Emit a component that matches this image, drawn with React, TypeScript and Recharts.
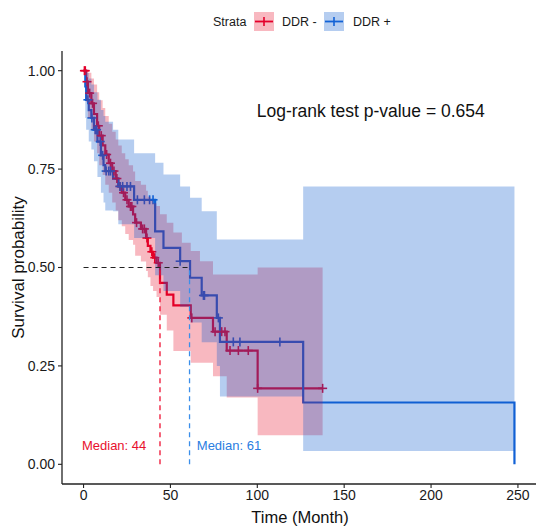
import React from 'react';
import { ComposedChart, Line, Area, Scatter, XAxis, YAxis, ReferenceDot, Label } from 'recharts';

const FONT = '"Liberation Sans", Arial, Helvetica, sans-serif';
const RED = '#E4002B';
const BLUE = '#1262D6';
const RED_FILL = '#E7001B';
const BLUE_FILL = '#0A58CD';

// DDR - (red) Kaplan-Meier estimate and confidence band
const RED_TIME = [0, 1.5, 2.5, 4.5, 6, 7.8, 9, 11, 12.5, 14.5, 16.5, 18.5, 20, 22, 24, 26, 28.5, 29.7, 33, 36, 37, 38.5, 40, 42, 44, 47.9, 51.7, 56.6, 61.7, 67, 74.5, 82.4, 100.2, 137.6];
const RED_SURV = [1, 0.972, 0.943, 0.917, 0.89, 0.86, 0.835, 0.81, 0.787, 0.765, 0.745, 0.726, 0.706, 0.69, 0.672, 0.655, 0.635, 0.614, 0.598, 0.575, 0.555, 0.54, 0.525, 0.512, 0.461, 0.431, 0.404, 0.404, 0.372, 0.372, 0.337, 0.289, 0.193, 0.193];
const RED_LO = [1, 0.92, 0.88, 0.85, 0.82, 0.79, 0.76, 0.735, 0.71, 0.69, 0.665, 0.645, 0.62, 0.605, 0.585, 0.57, 0.558, 0.53, 0.515, 0.491, 0.475, 0.453, 0.44, 0.425, 0.38, 0.34, 0.288, 0.288, 0.258, 0.258, 0.224, 0.17, 0.074, 0.074];
const RED_HI = [1, 1, 0.995, 0.98, 0.965, 0.945, 0.925, 0.905, 0.885, 0.865, 0.845, 0.825, 0.81, 0.79, 0.775, 0.76, 0.744, 0.72, 0.71, 0.695, 0.68, 0.67, 0.663, 0.656, 0.635, 0.614, 0.589, 0.563, 0.542, 0.516, 0.482, 0.482, 0.5, 0.5];
const RED_CENSOR_T = [0.5, 1.0, 2.0, 3.5, 5.2, 8.5, 10.2, 13.3, 15.5, 17.5, 19.2, 21, 23, 25, 27, 27.8, 30.5, 34, 35, 36.5, 39.3, 41, 43, 62.3, 75.7, 79.5, 81.4, 84.3, 89.1, 94.8, 100.2, 137.6];
const RED_CENSOR_S = [1, 1, 0.972, 0.943, 0.917, 0.86, 0.835, 0.787, 0.765, 0.745, 0.726, 0.706, 0.69, 0.672, 0.655, 0.655, 0.614, 0.598, 0.598, 0.575, 0.54, 0.525, 0.512, 0.372, 0.337, 0.337, 0.337, 0.289, 0.289, 0.289, 0.193, 0.193];

// DDR + (blue)
const BLUE_TIME = [0, 1, 1.5, 3, 4.5, 6, 8, 10, 11.5, 12.5, 17, 20, 29.1, 41.2, 46, 55.6, 61.3, 68, 76.7, 78.5, 126.4, 248];
const BLUE_SURV = [1, 0.96, 0.926, 0.9, 0.88, 0.85, 0.82, 0.785, 0.76, 0.745, 0.726, 0.706, 0.672, 0.592, 0.55, 0.516, 0.474, 0.429, 0.372, 0.311, 0.157, 0];
const BLUE_LO = [1, 0.88, 0.85, 0.82, 0.8, 0.77, 0.73, 0.69, 0.665, 0.645, 0.643, 0.61, 0.575, 0.48, 0.44, 0.4, 0.36, 0.31, 0.25, 0.172, 0.034, 0.034];
const BLUE_HI = [1, 1, 0.995, 0.98, 0.965, 0.945, 0.926, 0.9, 0.885, 0.87, 0.85, 0.825, 0.79, 0.766, 0.736, 0.706, 0.677, 0.643, 0.571, 0.571, 0.706, 0.706];
const BLUE_CENSOR_T = [2.5, 4.8, 6.7, 7.5, 9.6, 11, 13, 14.5, 15.5, 21, 22.5, 25, 27, 31, 35, 38, 40, 55.6, 69, 69.6, 77.6, 86.2, 90, 113];
const BLUE_CENSOR_S = [0.926, 0.88, 0.85, 0.85, 0.82, 0.785, 0.745, 0.745, 0.745, 0.706, 0.706, 0.706, 0.706, 0.672, 0.672, 0.672, 0.672, 0.516, 0.429, 0.429, 0.372, 0.311, 0.311, 0.311];

const MEDIAN_RED = 44;
const MEDIAN_BLUE = 61;
const P_VALUE = '0.654';
const X_TICKS = [0, 50, 100, 150, 200, 250];
const Y_TICKS = [0, 0.25, 0.5, 0.75, 1];

const redLine = RED_TIME.map((t, i) => ({ t, s: RED_SURV[i] }));
const redBand = RED_TIME.map((t, i) => ({ t, band: [RED_LO[i], RED_HI[i]] }));
const redCensor = RED_CENSOR_T.map((t, i) => ({ t, s: RED_CENSOR_S[i] }));
const blueLine = BLUE_TIME.map((t, i) => ({ t, s: BLUE_SURV[i] }));
const blueBand = BLUE_TIME.map((t, i) => ({ t, band: [BLUE_LO[i], BLUE_HI[i]] }));
const blueCensor = BLUE_CENSOR_T.map((t, i) => ({ t, s: BLUE_CENSOR_S[i] }));

const medianH = [{ t: 0, s: 0.5 }, { t: MEDIAN_BLUE, s: 0.5 }];
const medianRedV = [{ t: MEDIAN_RED, s: 0 }, { t: MEDIAN_RED, s: 0.5 }];
const medianBlueV = [{ t: MEDIAN_BLUE, s: 0 }, { t: MEDIAN_BLUE, s: 0.5 }];

const plus = (color: string) => (props: any) => {
  const { cx, cy } = props;
  if (cx == null || cy == null) return <g />;
  return (
    <g>
      <line x1={cx - 4.5} x2={cx + 4.5} y1={cy} y2={cy} stroke={color} strokeWidth={1.6} />
      <line x1={cx} x2={cx} y1={cy - 4.5} y2={cy + 4.5} stroke={color} strokeWidth={1.6} />
    </g>
  );
};

const tickStyle = { fill: '#1a1a1a', fontSize: 14, fontFamily: FONT };

export default function App() {
  return (
    <div style={{ position: 'absolute', left: 0, top: 0, width: 550, height: 531, background: '#fff' }}>
      <svg width={550} height={40} style={{ position: 'absolute', left: 0, top: 0 }}>
        <text x={213} y={22} fontSize={12.5} fontFamily={FONT} fill="#1a1a1a" dominantBaseline="central">Strata</text>
        <rect x={254} y={12} width={20} height={19} fill={RED_FILL} fillOpacity={0.28} />
        <line x1={255} x2={273} y1={21.5} y2={21.5} stroke={RED} strokeWidth={1.8} />
        <line x1={264} x2={264} y1={17} y2={26} stroke={RED} strokeWidth={1.6} />
        <text x={282} y={22} fontSize={12.5} fontFamily={FONT} fill="#1a1a1a" dominantBaseline="central">DDR -</text>
        <rect x={324} y={12} width={20} height={19} fill={BLUE_FILL} fillOpacity={0.3} />
        <line x1={325} x2={343} y1={21.5} y2={21.5} stroke={BLUE} strokeWidth={1.8} />
        <line x1={334} x2={334} y1={17} y2={26} stroke={BLUE} strokeWidth={1.6} />
        <text x={353} y={22} fontSize={12.5} fontFamily={FONT} fill="#1a1a1a" dominantBaseline="central">DDR +</text>
      </svg>
      <ComposedChart width={550} height={531} margin={{ top: 51, right: 14, left: 0, bottom: 0 }} style={{ position: 'absolute', left: 0, top: 0 }}>
        <XAxis
          dataKey="t"
          type="number"
          domain={[-12.4, 260.4]}
          allowDataOverflow
          ticks={X_TICKS}
          height={47}
          tick={tickStyle}
          tickSize={4}
          tickMargin={2}
          axisLine={{ stroke: '#222', strokeWidth: 1.3 }}
          tickLine={{ stroke: '#222', strokeWidth: 1.1 }}
        >
          <Label
            content={(p: any) => {
              const vb = p.viewBox || { x: 62, y: 484, width: 474, height: 47 };
              return (
                <text x={vb.x + vb.width / 2 + 1} y={517} textAnchor="middle" dominantBaseline="central" fontSize={16.5} fontFamily={FONT} fill="#111">
                  Time (Month)
                </text>
              );
            }}
          />
        </XAxis>
        <YAxis
          type="number"
          domain={[-0.05, 1.05]}
          allowDataOverflow
          ticks={Y_TICKS}
          width={62}
          tick={tickStyle}
          tickSize={4}
          tickMargin={3}
          tickFormatter={(v: number) => v.toFixed(2)}
          axisLine={{ stroke: '#222', strokeWidth: 1.3 }}
          tickLine={{ stroke: '#222', strokeWidth: 1.1 }}
        >
          <Label
            content={(p: any) => {
              const vb = p.viewBox || { x: 0, y: 51, width: 62, height: 433 };
              const cy = vb.y + vb.height / 2;
              return (
                <text x={18} y={cy} transform={`rotate(-90 18 ${cy})`} textAnchor="middle" dominantBaseline="central" fontSize={17} fontFamily={FONT} fill="#111">
                  Survival probability
                </text>
              );
            }}
          />
        </YAxis>

        <Line data={redLine} dataKey="s" type="stepAfter" stroke={RED} strokeWidth={2.2} dot={false} isAnimationActive={false} />
        <Line data={blueLine} dataKey="s" type="stepAfter" stroke={BLUE} strokeWidth={2.2} dot={false} isAnimationActive={false} />
        <Scatter data={redCensor} dataKey="s" shape={plus(RED)} isAnimationActive={false} />
        <Scatter data={blueCensor} dataKey="s" shape={plus(BLUE)} isAnimationActive={false} />

        <Area data={redBand} dataKey="band" type="stepAfter" stroke="none" fill={RED_FILL} fillOpacity={0.28} isAnimationActive={false} zIndex={700} />
        <Area data={blueBand} dataKey="band" type="stepAfter" stroke="none" fill={BLUE_FILL} fillOpacity={0.3} isAnimationActive={false} zIndex={710} />

        <Line data={medianH} dataKey="s" type="linear" stroke="#222" strokeWidth={1.1} strokeDasharray="5 4" dot={false} isAnimationActive={false} zIndex={800} />
        <Line data={medianRedV} dataKey="s" type="linear" stroke="#EE1133" strokeWidth={1.3} strokeDasharray="5 4" dot={false} isAnimationActive={false} zIndex={800} />
        <Line data={medianBlueV} dataKey="s" type="linear" stroke="#3A8EEA" strokeWidth={1.3} strokeDasharray="5 4" dot={false} isAnimationActive={false} zIndex={800} />

        <ReferenceDot x={165.3} y={0.898} r={0} fill="none" stroke="none" label={{ value: `Log-rank test p-value = ${P_VALUE}`, position: 'center', fill: '#111', fontSize: 17.5, fontFamily: FONT }} />
        <ReferenceDot x={17.6} y={0.048} r={0} fill="none" stroke="none" label={{ value: `Median: ${MEDIAN_RED}`, position: 'center', fill: '#E8102E', fontSize: 13, fontFamily: FONT }} />
        <ReferenceDot x={83.7} y={0.048} r={0} fill="none" stroke="none" label={{ value: `Median: ${MEDIAN_BLUE}`, position: 'center', fill: '#2A7DE1', fontSize: 13, fontFamily: FONT }} />
      </ComposedChart>
    </div>
  );
}
